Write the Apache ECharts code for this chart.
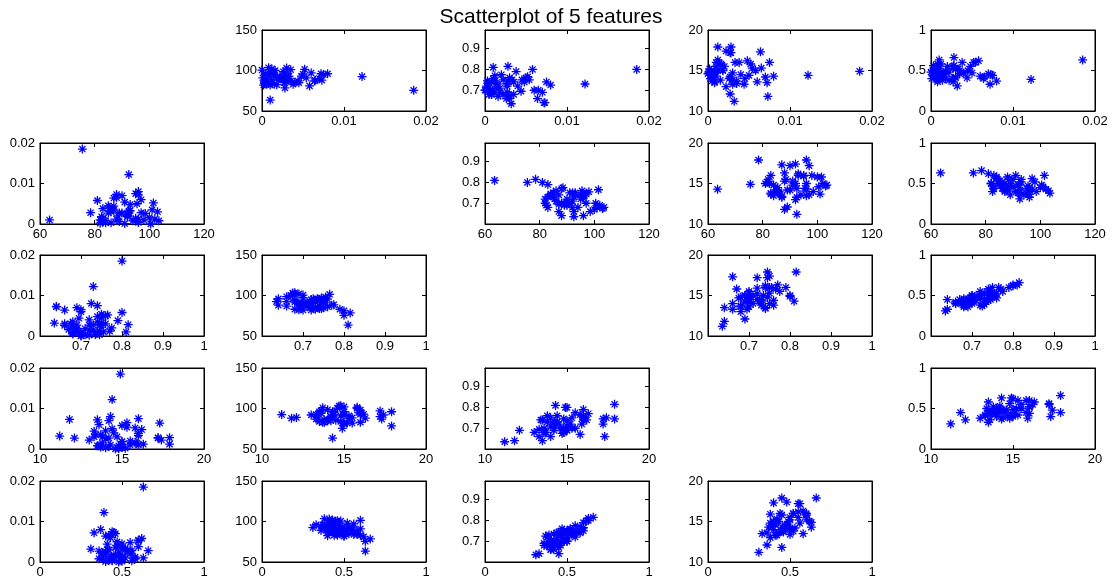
<!DOCTYPE html>
<html>
<head>
<meta charset="utf-8">
<script src="https://cdn.jsdelivr.net/npm/echarts@6/dist/echarts.min.js"></script>
<style>html,body{margin:0;padding:0;background:#fff}#c{width:1113px;height:583px}</style>
</head>
<body>
<div id="c"></div>
<script>
const title = "Scatterplot of 5 features";
const featureNames = ["F1", "F2", "F3", "F4", "F5"];
// each observation: F1..F5 as separate arrays
const f1 = [0.0185,0.0122,0.0010,0.0028,0.0052,0.0032,0.0073,0.0027,0.0012,0.0064,0.0027,0.0022,0.0028,0.0058,0.0038,0.0045,0.0008,0.0015,0.0002,0.0010,0.0018,0.0005,0.0030,0.0035,0.0012,0.0020,0.0003,0.0040,0.0065,0.0070,0.0001,0.0022,0.0033,0.0048,0.0030,0.0075,0.0008,0.0014,0.0050,0.0004,0.0072,0.0060,0.0010,0.0026,0.0016,0.0000,0.0035,0.0012,0.0030,0.0008,0.0054,0.0006,0.0018,0.0044,0.0003,0.0027,0.0080];
const f2 = [75.5,92.5,63.5,78.5,101.5,92.5,88,89,96,87,90,92,97,81,83,85,84,83,82,82,82.5,83,86,87,88,88.5,86,85.5,88,90,91,92,93,93,92.5,95,94,95,95.5,96,96,97,98,98.5,100,100.5,101,102,103,103.5,91,89,92,87,84,85,96];
const f3 = [0.800,0.730,0.810,0.815,0.765,0.635,0.640,0.690,0.745,0.660,0.720,0.750,0.745,0.800,0.790,0.750,0.740,0.730,0.720,0.700,0.690,0.680,0.760,0.740,0.770,0.775,0.710,0.720,0.700,0.690,0.700,0.680,0.750,0.740,0.660,0.740,0.680,0.720,0.760,0.735,0.640,0.700,0.755,0.660,0.670,0.700,0.680,0.690,0.675,0.680,0.750,0.700,0.710,0.695,0.745,0.730,0.725];
const f4 = [14.9,14.4,14.3,17.9,15.8,11.2,11.8,12.1,17.9,17.3,17.2,17.4,17.2,15.0,16.0,14.0,13.5,13.8,15.2,15.5,15.0,13.7,13.8,13.4,16.3,15.5,14.0,14.5,15.3,14.2,14.8,13.0,16.0,16.2,13.3,16.0,13.6,15.9,14.4,15.0,13.5,13.6,16.0,14.0,15.8,14.6,13.7,15.0,14.7,14.8,15.3,14.2,15.0,13.3,14.8,14.2,14.3];
const f5 = [0.63,0.39,0.63,0.66,0.60,0.31,0.45,0.36,0.45,0.40,0.55,0.48,0.56,0.62,0.60,0.50,0.58,0.46,0.50,0.50,0.40,0.44,0.52,0.50,0.58,0.55,0.44,0.47,0.42,0.46,0.40,0.38,0.52,0.55,0.42,0.44,0.36,0.38,0.47,0.42,0.33,0.43,0.52,0.40,0.45,0.48,0.46,0.43,0.41,0.38,0.60,0.50,0.49,0.41,0.56,0.53,0.37];
const features = [f1, f2, f3, f4, f5];

// axis ranges and tick labels per feature (as x / as y)
const xRanges = [[0,0.02],[60,120],[0.6,1],[10,20],[0,1]];
const yRanges = [[0,0.02],[50,150],[0.6,0.99],[10,20],[0,1]];
const xTicks = [[0,0.01,0.02],[60,80,100,120],[0.7,0.8,0.9,1],[10,15,20],[0,0.5,1]];
const yTicks = [[0,0.01,0.02],[50,100,150],[0.7,0.8,0.9],[10,15,20],[0,0.5,1]];

const colLeft = [40, 262, 485, 708, 931];
const rowTop = [30, 143, 255, 368, 481];
const W = 164, H = 81;

const star = 'path://M5 0L5 10M0 5L10 5M1.6 1.6L8.4 8.4M8.4 1.6L1.6 8.4';
const fmt = v => { const r = Math.round(v*1000)/1000; return String(r); };

const grids = [], xAxes = [], yAxes = [], series = [];
const lab = {color:'#000', fontFamily:'Liberation Sans, Arial, sans-serif', fontSize:13};
let g = 0;
for (let i = 0; i < 5; i++) {
  for (let j = 0; j < 5; j++) {
    if (i === j) continue;
    grids.push({left: colLeft[j], top: rowTop[i], width: W, height: H, show: true, borderColor: '#000', borderWidth: 1, backgroundColor: '#fff'});
    const xr = xRanges[i], yr = yRanges[j];
    const base = {type:'value', gridIndex:g, splitLine:{show:false}, axisLine:{show:true, onZero:false, lineStyle:{color:'#000'}}};
    xAxes.push(Object.assign({}, base, {position:'bottom', min:xr[0], max:xr[1],
      axisTick:{show:true, inside:true, length:4, customValues:xTicks[i], lineStyle:{color:'#000'}},
      axisLabel:Object.assign({}, lab, {margin:4, customValues:xTicks[i], formatter:fmt})}));
    xAxes.push(Object.assign({}, base, {position:'top', min:xr[0], max:xr[1],
      axisTick:{show:true, inside:true, length:4, customValues:xTicks[i], lineStyle:{color:'#000'}},
      axisLabel:{show:false}}));
    yAxes.push(Object.assign({}, base, {position:'left', min:yr[0], max:yr[1],
      axisTick:{show:true, inside:true, length:4, customValues:yTicks[j], lineStyle:{color:'#000'}},
      axisLabel:Object.assign({}, lab, {margin:5, customValues:yTicks[j], formatter:fmt})}));
    yAxes.push(Object.assign({}, base, {position:'right', min:yr[0], max:yr[1],
      axisTick:{show:true, inside:true, length:4, customValues:yTicks[j], lineStyle:{color:'#000'}},
      axisLabel:{show:false}}));
    const xs = features[i], ys = features[j];
    series.push({type:'scatter', xAxisIndex:2*g, yAxisIndex:2*g, symbol:star, symbolSize:9,
      itemStyle:{color:'rgba(0,0,0,0)', borderColor:'#0000ff', borderWidth:1.3, opacity:1},
      emphasis:{disabled:true}, animation:false,
      data: xs.map((v,k)=>[v, ys[k]])});
    g++;
  }
}

const chart = echarts.init(document.getElementById('c'), null, {renderer:'canvas'});
chart.setOption({
  backgroundColor:'#fff',
  animation:false,
  title:{text:title, left:546, textAlign:'center', top:2, textStyle:{fontFamily:'Liberation Sans, Arial, sans-serif', fontSize:21, fontWeight:'normal', color:'#000'}},
  grid:grids, xAxis:xAxes, yAxis:yAxes, series:series
});
</script>
</body>
</html>
